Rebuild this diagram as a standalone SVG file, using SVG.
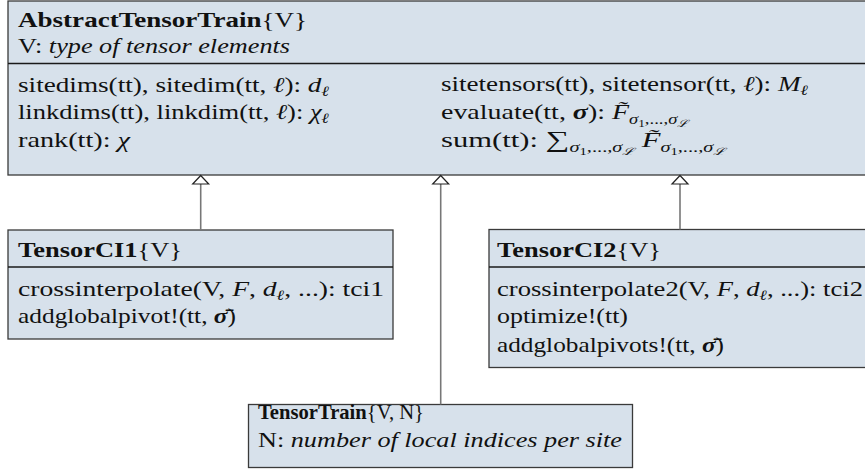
<svg xmlns="http://www.w3.org/2000/svg" width="865" height="471" viewBox="0 0 865 471">
<style>
.box{fill:#d7e1eb;stroke:#3a3a3a;stroke-width:1.3}
.div{stroke:#1a1a1a;stroke-width:1.3}
.t{font-family:"Liberation Serif","Times New Roman",serif;font-size:21px;fill:#111}
.b{font-weight:bold}
.i{font-style:italic}
.conn line{stroke:#777;stroke-width:1.6}
.conn path{fill:#fff;stroke:#222;stroke-width:1.2}
</style>
<rect width="865" height="471" fill="#fff"/>
<g id="abstract" font-family="Liberation Serif, serif">
<rect class="box" x="8" y="1" width="870" height="174"/>
<line class="div" x1="8" y1="63.5" x2="870" y2="63.5"/>
<text class="t" x="18" y="27" textLength="289" lengthAdjust="spacingAndGlyphs"><tspan class="b">AbstractTensorTrain</tspan>{V}</text>
<text class="t" x="18" y="53" textLength="272" lengthAdjust="spacingAndGlyphs">V: <tspan class="i">type of tensor elements</tspan></text>
<text class="t" x="18" y="92" textLength="311" lengthAdjust="spacingAndGlyphs">sitedims(tt), sitedim(tt, <tspan class="i">ℓ</tspan>): <tspan class="i">d</tspan><tspan class="i" dy="4" font-size="14">ℓ</tspan></text>
<text class="t" x="18" y="119" textLength="311" lengthAdjust="spacingAndGlyphs">linkdims(tt), linkdim(tt, <tspan class="i">ℓ</tspan>): <tspan class="i">χ</tspan><tspan class="i" dy="4" font-size="14">ℓ</tspan></text>
<text class="t" x="18" y="147" textLength="112" lengthAdjust="spacingAndGlyphs">rank(tt): <tspan class="i">χ</tspan></text>
<text class="t" x="441" y="91" textLength="367" lengthAdjust="spacingAndGlyphs">sitetensors(tt), sitetensor(tt, <tspan class="i">ℓ</tspan>): <tspan class="i">M</tspan><tspan class="i" dy="4" font-size="14">ℓ</tspan></text>
<text class="t" x="441" y="119" textLength="247" lengthAdjust="spacingAndGlyphs">evaluate(tt, <tspan class="i b">σ</tspan>): <tspan class="i">F̃</tspan><tspan class="i" dy="5" font-size="14">σ</tspan><tspan dy="3" font-size="10">1</tspan><tspan dy="-3" font-size="14">,...,</tspan><tspan class="i" font-size="14">σ</tspan><tspan class="i" dy="3" font-size="10">ℒ</tspan></text>
<text class="t" x="441" y="147" textLength="284" lengthAdjust="spacingAndGlyphs">sum(tt): <tspan font-size="23">∑</tspan><tspan class="i" dy="5" font-size="14">σ</tspan><tspan dy="3" font-size="10">1</tspan><tspan dy="-3" font-size="14">,...,</tspan><tspan class="i" font-size="14">σ</tspan><tspan class="i" dy="3" font-size="10">ℒ</tspan><tspan dy="-8"> </tspan><tspan class="i">F̃</tspan><tspan class="i" dy="5" font-size="14">σ</tspan><tspan dy="3" font-size="10">1</tspan><tspan dy="-3" font-size="14">,...,</tspan><tspan class="i" font-size="14">σ</tspan><tspan class="i" dy="3" font-size="10">ℒ</tspan></text>
</g>
<g id="tci1" font-family="Liberation Serif, serif">
<rect class="box" x="8" y="230" width="385" height="109"/>
<line class="div" x1="8" y1="267" x2="393" y2="267"/>
<text class="t" x="18" y="257" textLength="164" lengthAdjust="spacingAndGlyphs"><tspan class="b">TensorCI1</tspan>{V}</text>
<text class="t" x="18" y="296" textLength="366" lengthAdjust="spacingAndGlyphs">crossinterpolate(V, <tspan class="i">F</tspan>, <tspan class="i">d</tspan><tspan class="i" dy="4" font-size="14">ℓ</tspan><tspan dy="-4">, ...): tci1</tspan></text>
<text class="t" x="18" y="323" textLength="218" lengthAdjust="spacingAndGlyphs">addglobalpivot!(tt, <tspan class="i b">σ̄</tspan>)</text>
</g>
<g id="tci2" font-family="Liberation Serif, serif">
<rect class="box" x="489" y="229.5" width="380" height="138"/>
<line class="div" x1="489" y1="267" x2="869" y2="267"/>
<text class="t" x="497" y="257" textLength="164" lengthAdjust="spacingAndGlyphs"><tspan class="b">TensorCI2</tspan>{V}</text>
<text class="t" x="497" y="296" textLength="366" lengthAdjust="spacingAndGlyphs">crossinterpolate2(V, <tspan class="i">F</tspan>, <tspan class="i">d</tspan><tspan class="i" dy="4" font-size="14">ℓ</tspan><tspan dy="-4">, ...): tci2</tspan></text>
<text class="t" x="497" y="323" textLength="131" lengthAdjust="spacingAndGlyphs">optimize!(tt)</text>
<text class="t" x="497" y="352" textLength="227" lengthAdjust="spacingAndGlyphs">addglobalpivots!(tt, <tspan class="i b">σ̄</tspan>)</text>
</g>
<g id="tt" font-family="Liberation Serif, serif">
<rect class="box" x="248.5" y="404.5" width="384" height="63"/>
<text class="t" x="258" y="419" textLength="166" lengthAdjust="spacingAndGlyphs"><tspan class="b">TensorTrain</tspan>{V, N}</text>
<text class="t" x="258" y="447" textLength="364" lengthAdjust="spacingAndGlyphs">N: <tspan class="i">number of local indices per site</tspan></text>
</g>
<g id="connectors" class="conn">
<line x1="200.7" y1="184" x2="200.7" y2="230"/>
<line x1="440.7" y1="184" x2="440.7" y2="404.5"/>
<line x1="680" y1="184" x2="680" y2="229.5"/>
<path d="M200.7 175.5 L208.7 184 L192.7 184 Z"/>
<path d="M440.7 175.5 L448.7 184 L432.7 184 Z"/>
<path d="M680 175.5 L688 184 L672 184 Z"/>
</g>
</svg>
